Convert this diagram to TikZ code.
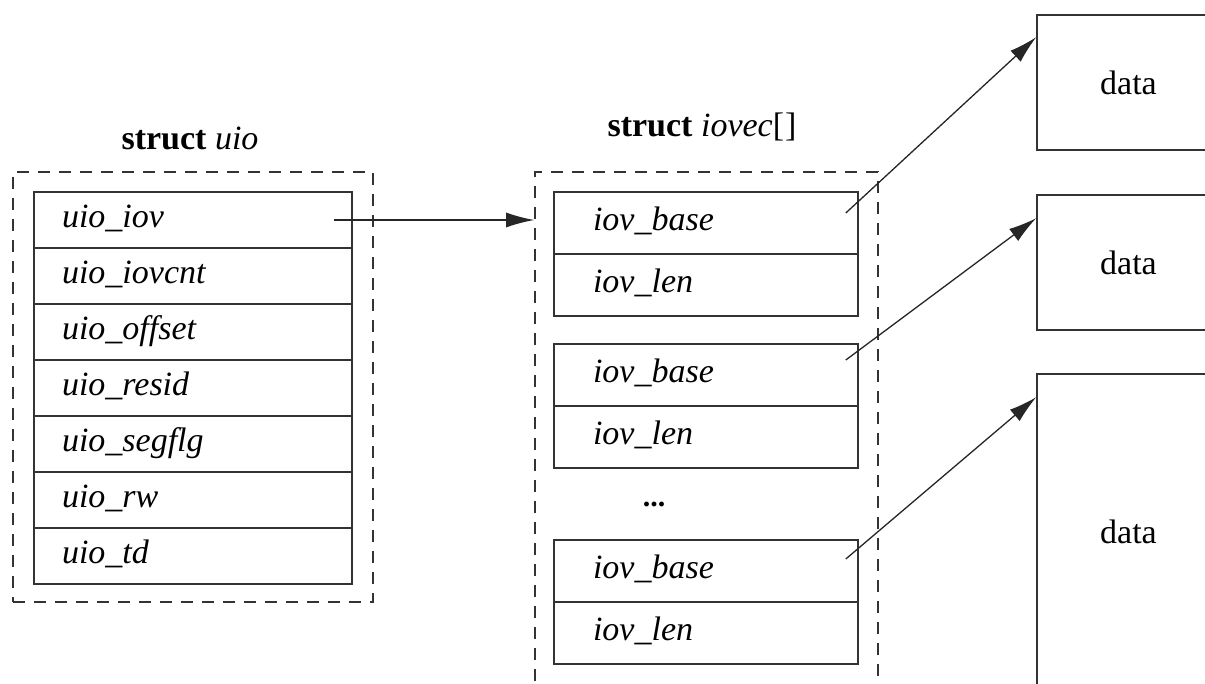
\documentclass[tikz,border=0pt]{standalone}
\usepackage{fontspec}
\setmainfont{Liberation Serif}
\usetikzlibrary{arrows.meta}
\begin{document}
\begin{tikzpicture}[x=1pt,y=-1pt,
  font=\fontsize{34}{40}\selectfont,
  ln/.style={line width=1.6pt, draw=black!80},
  dashbox/.style={ln, dash pattern=on 12pt off 9pt, rectangle, inner sep=0pt},
  uiorow/.style={ln, rectangle, text width=262pt, inner xsep=28pt, inner ysep=0pt,
    minimum height=56pt, text height=23pt, text depth=8pt, align=left, font=\fontsize{34}{40}\selectfont\itshape},
  iovrow/.style={ln, rectangle, text width=226pt, inner xsep=39pt, inner ysep=0pt,
    minimum height=62pt, text height=23pt, text depth=8pt, align=left, font=\fontsize{34}{40}\selectfont\itshape},
  databox/.style={ln, rectangle, minimum width=183pt, inner sep=0pt},
  arr/.style={line width=1.3pt, draw=black!85, -{Latex[length=28pt,width=15pt]}}
]
\useasboundingbox (0,0) rectangle (1205,684);
\clip (0,0) rectangle (1205,684);
\fill[white] (0,0) rectangle (1205,684);

% struct uio
\node[anchor=base] (uiotitle) at (190,150) {\textbf{struct} \textit{uio}};
\node[dashbox, minimum width=360pt, minimum height=430pt] (uiobox) at (193,387) {};
\node[uiorow] (u1) at (193,220) {uio\_iov};
\node[uiorow] (u2) at (193,276) {uio\_iovcnt};
\node[uiorow] (u3) at (193,332) {uio\_offset};
\node[uiorow] (u4) at (193,388) {uio\_resid};
\node[uiorow] (u5) at (193,444) {uio\_segflg};
\node[uiorow] (u6) at (193,500) {uio\_rw};
\node[uiorow] (u7) at (193,556) {uio\_td};

% struct iovec[]
\node[anchor=base] (iovtitle) at (702,137) {\textbf{struct} \textit{iovec}[\kern1pt]};
\node[dashbox, minimum width=343pt, minimum height=560pt] (iovbox) at (706.5,452) {};
\node[iovrow] (b1) at (706,223) {iov\_base};
\node[iovrow] (l1) at (706,285) {iov\_len};
\node[iovrow] (b2) at (706,375) {iov\_base};
\node[iovrow] (l2) at (706,437) {iov\_len};
\node[anchor=base, font=\fontsize{30}{34}\selectfont\bfseries] (dots) at (654,506) {...};
\node[iovrow] (b3) at (706,571) {iov\_base};
\node[iovrow] (l3) at (706,633) {iov\_len};

% data buffers
\node[databox, minimum height=135pt] (d1) at (1128.5,82.5) {data};
\node[databox, minimum height=135pt] (d2) at (1128.5,262.5) {data};
\node[databox, minimum height=316pt] (d3) at (1128.5,532) {data};

% connectors
\draw[arr] ([xshift=-19pt]u1.east) -- (u1.east -| iovbox.west);
\draw[arr] ([xshift=-13pt,yshift=10pt]b1.east) -- ([yshift=-23pt]d1.north west);
\draw[arr] ([xshift=-13pt,yshift=15pt]b2.east) -- ([yshift=-24pt]d2.north west);
\draw[arr] ([xshift=-13pt,yshift=12pt]b3.east) -- ([yshift=-24pt]d3.north west);
\end{tikzpicture}
\end{document}
